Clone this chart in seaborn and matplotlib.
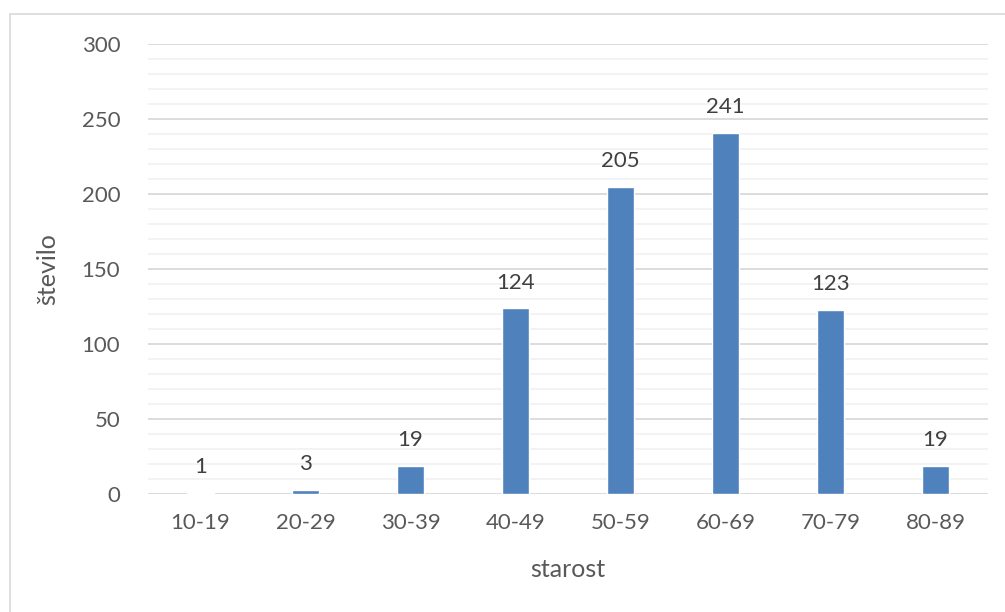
import matplotlib
matplotlib.use("Agg")
import matplotlib.pyplot as plt
import seaborn as sns
import pandas as pd
from matplotlib.lines import Line2D

categories = ["10-19", "20-29", "30-39", "40-49", "50-59", "60-69", "70-79", "80-89"]
values = [1, 3, 19, 124, 205, 241, 123, 19]
yticks = [0, 50, 100, 150, 200, 250, 300]

sns.set_theme(style="white")
plt.rcParams['font.family'] = ['Lato', 'DejaVu Sans']

df = pd.DataFrame({"starost": categories, "stevilo": values})

fig = plt.figure(figsize=(10.05, 6.12), dpi=100)
ax = fig.add_axes([148/1005, (612-494)/612, (988-148)/1005, (494-44)/612])

sns.barplot(data=df, x="starost", y="stevilo", color="#4F81BD", width=0.25,
            saturation=1, ax=ax, zorder=3)

ax.set_ylim(0, 300)
ax.set_yticks(yticks)
ax.set_yticks(range(0, 301, 10), minor=True)
ax.grid(axis="y", which="major", color="#D9D9D9", linewidth=1.3, zorder=0)
ax.grid(axis="y", which="minor", color="#F2F2F2", linewidth=1.3, zorder=0)
ax.set_axisbelow(True)
for s in ax.spines.values():
    s.set_visible(False)
ax.tick_params(axis="both", which="both", length=0, labelsize=16, colors="#595959", pad=14)
ax.tick_params(axis="y", pad=20)

for i, v in enumerate(values):
    ax.annotate(str(v), (i, v), xytext=(0, 11), textcoords="offset points",
                ha="center", va="bottom", fontsize=16, color="#404040")

ax.set_xlabel("starost", fontsize=18, color="#595959", labelpad=18)
ax.set_ylabel("število", fontsize=18, color="#595959", labelpad=16)

# chart border (left and top visible)
fig.add_artist(Line2D([9.5/1005, 9.5/1005], [0, 1 - 13.5/612], transform=fig.transFigure,
                      color="#D9D9D9", linewidth=1.2))
fig.add_artist(Line2D([9.5/1005, 1.0], [1 - 13.5/612, 1 - 13.5/612], transform=fig.transFigure,
                      color="#D9D9D9", linewidth=1.2))

fig.savefig("out.png", dpi=100)
